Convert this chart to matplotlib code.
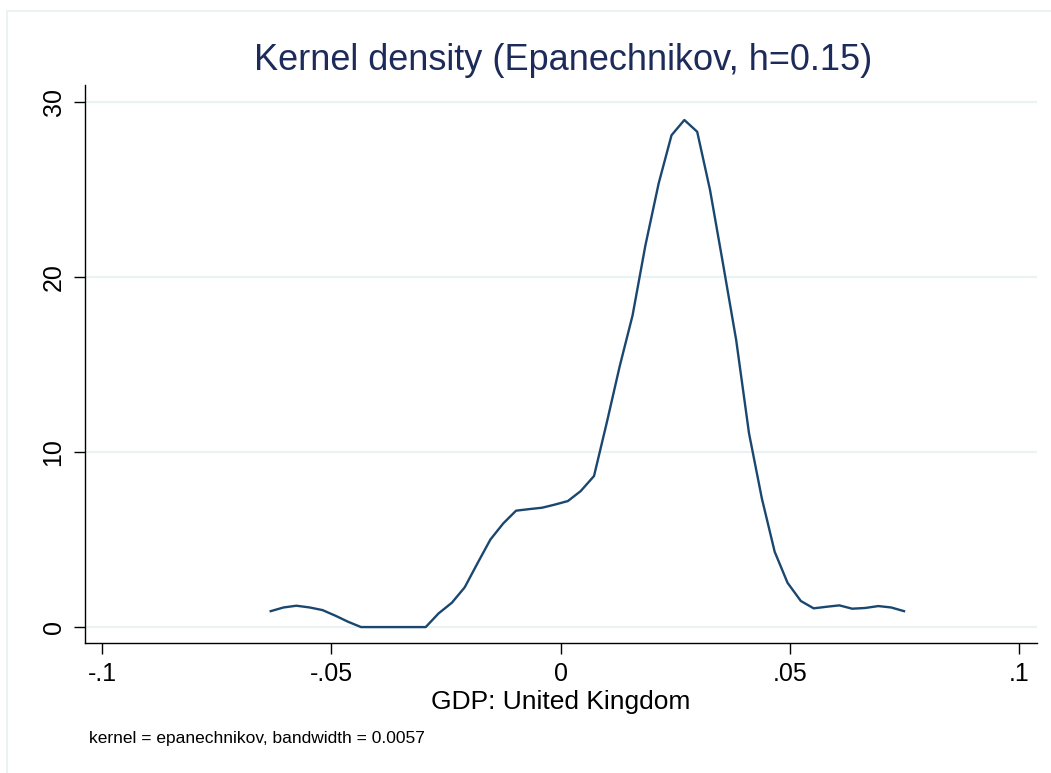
import numpy as np
import matplotlib
matplotlib.use("Agg")
import matplotlib.pyplot as plt
from matplotlib.patches import Rectangle

plt.rcParams['font.family'] = ['Liberation Sans', 'DejaVu Sans']

# kdensity evaluation grid (50 points between sample min and max) and density
gdp_x = [-0.0632, -0.0604, -0.0576, -0.0547, -0.0519, -0.0491, -0.0463, -0.0435,
         -0.0407, -0.0378, -0.0350, -0.0322, -0.0294, -0.0266, -0.0237, -0.0209,
         -0.0181, -0.0153, -0.0125, -0.0097, -0.0068, -0.0040, -0.0012, 0.0016,
         0.0044, 0.0073, 0.0101, 0.0129, 0.0157, 0.0185, 0.0214, 0.0242,
         0.0270, 0.0298, 0.0326, 0.0354, 0.0383, 0.0411, 0.0439, 0.0467,
         0.0495, 0.0524, 0.0552, 0.0580, 0.0608, 0.0636, 0.0664, 0.0693,
         0.0721, 0.0749]
density = [0.91, 1.12, 1.22, 1.12, 0.97, 0.65, 0.30, 0.0,
           0.0, 0.0, 0.0, 0.0, 0.0, 0.78, 1.39, 2.27,
           3.65, 5.00, 5.92, 6.65, 6.74, 6.82, 7.00, 7.20,
           7.77, 8.63, 11.7, 14.9, 17.8, 21.8, 25.35, 28.1,
           28.97, 28.3, 24.97, 20.8, 16.4, 11.07, 7.35, 4.30,
           2.53, 1.49, 1.07, 1.16, 1.24, 1.05, 1.09, 1.20,
           1.12, 0.91]

x_ticks = [-0.1, -0.05, 0, 0.05, 0.1]
x_tick_labels = ['-.1', '-.05', '0', '.05', '.1']
y_ticks = [0, 10, 20, 30]

title = 'Kernel density (Epanechnikov, h=0.15)'
x_title = 'GDP: United Kingdom'
note = 'kernel = epanechnikov, bandwidth = 0.0057'

W, H = 1051, 773
fig = plt.figure(figsize=(W / 100, H / 100), dpi=100)
fig.patch.set_facecolor('white')

# light frame around the graph region
fig.patches.append(Rectangle((7 / W, -0.05), 1.2, 1 - 11 / H + 0.05,
                             transform=fig.transFigure, fill=False,
                             edgecolor='#e8f0f2', linewidth=1.2))

ax = fig.add_axes([85 / W, 1 - 643 / H, (1037 - 85) / W, (643 - 85) / H])
ax.plot(gdp_x, density, color='#1a476f', linewidth=1.7, zorder=3)

ax.set_xlim(-0.1037, 0.1039)
ax.set_ylim(-0.91, 30.97)
ax.set_xticks(x_ticks)
ax.set_xticklabels(x_tick_labels)
ax.set_yticks(y_ticks)
ax.set_yticklabels([str(v) for v in y_ticks], rotation=90, va='center')

ax.grid(axis='y', color='#eaf2f3', linewidth=1.6)
ax.set_axisbelow(True)
for side in ('top', 'right'):
    ax.spines[side].set_visible(False)
for side in ('left', 'bottom'):
    ax.spines[side].set_linewidth(1.0)
    ax.spines[side].set_color('black')
ax.tick_params(axis='both', direction='out', length=8, width=1.0,
               labelsize=18, colors='black', pad=6)

fig.text(563 / W, 1 - 61 / H, title, ha='center', va='center',
         fontsize=26, color='#1c2b5a')
fig.text(561 / W, 1 - 702 / H, x_title, ha='center', va='center',
         fontsize=19, color='black')
fig.text(89 / W, 1 - 738 / H, note, ha='left', va='center',
         fontsize=12.5, color='black')

fig.savefig('out.png', dpi=100)
